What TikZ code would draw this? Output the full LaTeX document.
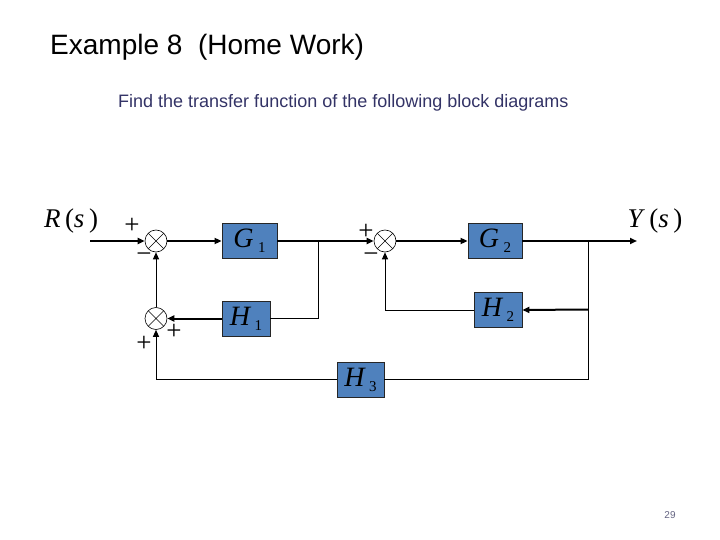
\documentclass[tikz,border=0pt]{standalone}
\usepackage{fontspec}
\setmainfont{Liberation Serif}
\newfontfamily\arial{Liberation Sans}
\usetikzlibrary{arrows.meta}
\definecolor{boxblue}{RGB}{79,129,189}
\definecolor{subtitle}{RGB}{51,51,102}
\definecolor{pagenum}{RGB}{100,100,130}
\tikzset{
  blk/.style={draw=black!85, line width=0.8pt, fill=boxblue, minimum width=#1, minimum height=35pt, inner sep=0pt, font=\fontsize{28}{28}\selectfont\itshape},
  sumj/.style={draw, line width=0.6pt, circle, minimum size=22pt, inner sep=0pt,
    path picture={\draw[line width=0.6pt] (path picture bounding box.north west)--(path picture bounding box.south east)
      (path picture bounding box.north east)--(path picture bounding box.south west);}},
  thk/.style={line width=2pt},
  thn/.style={line width=1pt},
  arr/.style={-{Triangle[length=7pt,width=6pt]}},
  sgn/.style={font=\fontsize{27}{27}\selectfont, inner sep=0pt},
  sig/.style={font=\fontsize{27}{27}\selectfont, inner sep=0pt}
}
\newcommand{\blksub}[2]{#1\,\raisebox{-0.4ex}{\fontsize{15}{15}\selectfont\upshape #2}}
\begin{document}
\begin{tikzpicture}[x=1pt,y=-1pt]
\useasboundingbox (0,0) rectangle (720,540);
% titles
\node[anchor=west, inner sep=0pt, font=\arial\fontsize{28}{28}\selectfont] (title) at (50,47) {Example 8\ \ (Home Work)};
\node[anchor=west, inner sep=0pt, text=subtitle, font=\arial\fontsize{18}{18}\selectfont] (subt) at (118,103) {Find the transfer function of the following block diagrams};
\node[inner sep=0pt, text=pagenum, font=\arial\fontsize{10}{10}\selectfont] (pg) at (670,515) {29};
% blocks
\node[blk=55pt] (G1) at (249.5,241) {\blksub{G}{1}};
\node[blk=48pt] (H1) at (246,318.5) {\blksub{H}{1}};
\node[blk=54pt] (G2) at (495,241) {\blksub{G}{2}};
\node[blk=48pt] (H2) at (498,310) {\blksub{H}{2}};
\node[blk=47pt] (H3) at (360.5,379.5) {\blksub{H}{3}};
% summing junctions
\node[sumj] (s1) at (156,241) {};
\node[sumj] (s2) at (156,318.5) {};
\node[sumj] (s3) at (385,241) {};
% signal labels
\node[sig] (R) at (71,221) {\textit{R}\,(\textit{s}\,)};
\node[sig] (Y) at (655,221) {\textit{Y}\,(\textit{s}\,)};
% signs
\node[sgn] (p1) at (132,226) {+};
\node[sgn] (m1) at (144,258) {\textminus};
\node[sgn] (p2) at (174,332) {+};
\node[sgn] (p3) at (144,344) {+};
\node[sgn] (p4) at (366,232) {+};
\node[sgn] (m3) at (371,258) {\textminus};
% coordinates
\coordinate (rin) at (90,241);
\coordinate (b1) at (318,241);
\coordinate (b2) at (588,241);
\coordinate (b3) at (588,309.5);
\coordinate (yout) at (637,241);
% connectors
\draw[thk,arr] (rin) -- (s1.west);
\draw[thk,arr] (s1.east) -- (G1.west);
\draw[thk,arr] (G1.east) -- (s3.west);
\draw[thk,arr] (s3.east) -- (G2.west);
\draw[thk,arr] (G2.east) -- (yout);
\draw[thn] (b1) |- (H1.east);
\draw[thk,arr] (H1.west) -- (s2.east);
\draw[thn,arr] (s2.north) -- (s1.south);
\draw[thn] (b2) |- (H3.east);
\draw[thn,arr] (H3.west) -| (s2.south);
\draw[thk,arr] (b3) -- (H2.east);
\draw[thn,arr] (H2.west) -| (s3.south);
\end{tikzpicture}
\end{document}
